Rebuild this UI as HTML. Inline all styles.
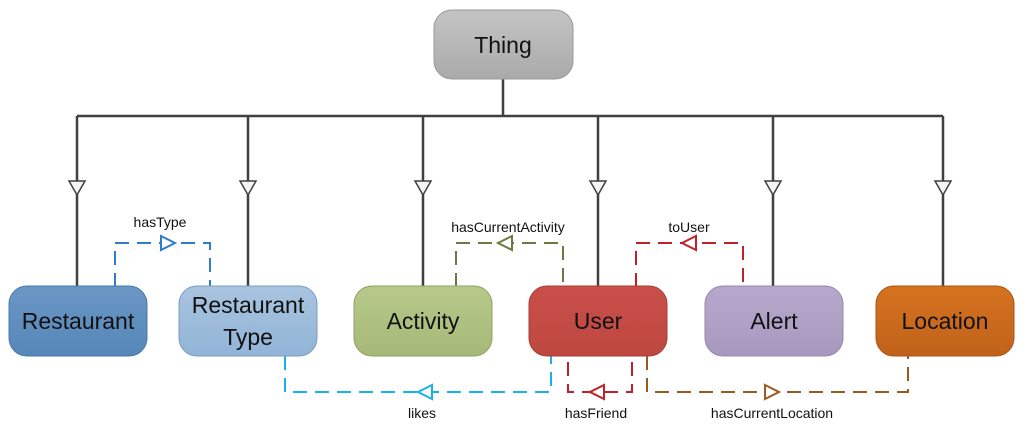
<!DOCTYPE html>
<html><head><meta charset="utf-8"><style>
html,body{margin:0;padding:0;background:#fff;width:1024px;height:429px;overflow:hidden}
svg{display:block}
text{font-family:"Liberation Sans",sans-serif}
</style></head><body>
<svg width="1024" height="429" viewBox="0 0 1024 429" xmlns="http://www.w3.org/2000/svg">
<defs>
<linearGradient id="g0" x1="0" y1="0" x2="0" y2="1"><stop offset="0" stop-color="#c4c4c4"/><stop offset="1" stop-color="#aaaaaa"/></linearGradient>
<linearGradient id="g1" x1="0" y1="0" x2="0" y2="1"><stop offset="0" stop-color="#6b97c4"/><stop offset="1" stop-color="#5587b9"/></linearGradient>
<linearGradient id="g2" x1="0" y1="0" x2="0" y2="1"><stop offset="0" stop-color="#a9c4e0"/><stop offset="1" stop-color="#92b4d7"/></linearGradient>
<linearGradient id="g3" x1="0" y1="0" x2="0" y2="1"><stop offset="0" stop-color="#b8c98a"/><stop offset="1" stop-color="#a6b978"/></linearGradient>
<linearGradient id="g4" x1="0" y1="0" x2="0" y2="1"><stop offset="0" stop-color="#c9504a"/><stop offset="1" stop-color="#be4740"/></linearGradient>
<linearGradient id="g5" x1="0" y1="0" x2="0" y2="1"><stop offset="0" stop-color="#b7a9cc"/><stop offset="1" stop-color="#a898bf"/></linearGradient>
<linearGradient id="g6" x1="0" y1="0" x2="0" y2="1"><stop offset="0" stop-color="#d5731f"/><stop offset="1" stop-color="#c0621a"/></linearGradient>
</defs>
<!-- hierarchy lines -->
<g stroke="#404040" stroke-width="2.5" fill="none">
<line x1="503" y1="79" x2="503" y2="116"/>
<line x1="77" y1="116" x2="943" y2="116"/>
<line x1="77" y1="116" x2="77" y2="287"/>
<line x1="248" y1="116" x2="248" y2="287"/>
<line x1="423" y1="116" x2="423" y2="287"/>
<line x1="598" y1="116" x2="598" y2="287"/>
<line x1="773" y1="116" x2="773" y2="287"/>
<line x1="943" y1="116" x2="943" y2="287"/>
</g>
<g stroke="#404040" stroke-width="1.5" fill="#f4f4f4">
<polygon points="69,181 85,181 77,195"/>
<polygon points="240,181 256,181 248,195"/>
<polygon points="415,181 431,181 423,195"/>
<polygon points="590,181 606,181 598,195"/>
<polygon points="765,181 781,181 773,195"/>
<polygon points="935,181 951,181 943,195"/>
</g>
<!-- dashed relations -->
<g fill="none" stroke-width="2" stroke-dasharray="14,8">
<polyline stroke="#2f7bd0" points="115,287 115,243 210,243 210,287"/>
<polyline stroke="#6b7a45" points="456,287 456,243 563,243 563,287"/>
<polyline stroke="#c0202a" points="636,287 636,243 743,243 743,287"/>
<polyline stroke="#1ab0ea" points="285,356 285,392 551,392 551,356"/>
<polyline stroke="#c0202a" points="568,362 568,392 632,392 632,356"/>
<polyline stroke="#9a5a24" points="647,356 647,392 908,392 908,356"/>
</g>
<g stroke-width="2" fill="#fff">
<polygon stroke="#2f7bd0" points="161,236 161,250 175,243"/>
<polygon stroke="#6b7a45" points="512,236 512,250 498,243"/>
<polygon stroke="#c0202a" points="696,236 696,250 682,243"/>
<polygon stroke="#1ab0ea" points="432,385 432,399 418,392"/>
<polygon stroke="#c0202a" points="604,385 604,399 590,392"/>
<polygon stroke="#9a5a24" points="765,385 765,399 779,392"/>
</g>
<!-- boxes -->
<g stroke-width="1">
<rect x="434" y="10" width="139" height="69" rx="18" fill="url(#g0)" stroke="#999"/>
<rect x="9" y="286" width="138" height="70" rx="18" fill="url(#g1)" stroke="#4a78a8"/>
<rect x="179" y="286" width="138" height="70" rx="18" fill="url(#g2)" stroke="#7a9cc0"/>
<rect x="354" y="286" width="138" height="70" rx="18" fill="url(#g3)" stroke="#8fa268"/>
<rect x="529" y="286" width="138" height="70" rx="18" fill="url(#g4)" stroke="#a83c36"/>
<rect x="705" y="286" width="138" height="70" rx="18" fill="url(#g5)" stroke="#9588ad"/>
<rect x="876" y="286" width="138" height="70" rx="18" fill="url(#g6)" stroke="#a85618"/>
</g>
<g font-size="23" fill="#111" text-anchor="middle">
<text x="503" y="53">Thing</text>
<text x="78" y="329">Restaurant</text>
<text x="248" y="313">Restaurant</text>
<text x="248" y="345">Type</text>
<text x="423" y="329">Activity</text>
<text x="598" y="329">User</text>
<text x="774" y="329">Alert</text>
<text x="945" y="329">Location</text>
</g>
<g font-size="14" fill="#111" text-anchor="middle">
<text x="160" y="227">hasType</text>
<text x="508" y="232">hasCurrentActivity</text>
<text x="689" y="232">toUser</text>
<text x="422" y="418">likes</text>
<text x="596" y="418">hasFriend</text>
<text x="772" y="418">hasCurrentLocation</text>
</g>
</svg>
</body></html>
